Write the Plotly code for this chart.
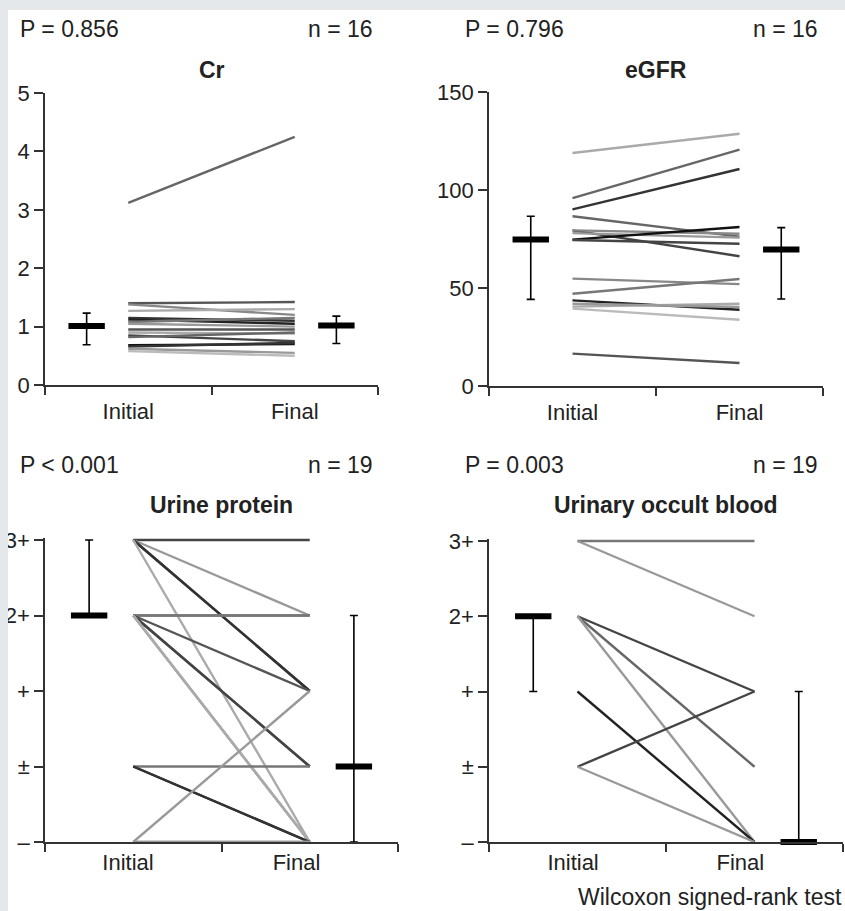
import plotly.graph_objects as go

W, H = 845, 911
FONT = "Liberation Sans, Arial, sans-serif"

# ---------------- data ----------------
groups = ["Initial", "Final"]
ordinal_labels = ["–", "±", "+", "2+", "3+"]

cr_initial = [3.12, 1.40, 1.38, 1.27, 1.15, 1.12, 1.08, 1.05, 0.95, 0.90, 0.85, 0.82, 0.68, 0.66, 0.62, 0.58]
cr_final   = [4.25, 1.42, 1.20, 1.30, 1.10, 1.05, 1.15, 1.00, 0.95, 0.88, 0.75, 0.90, 0.70, 0.72, 0.55, 0.50]
cr_colors  = ["#666", "#555", "#888", "#aaa", "#333", "#222", "#777", "#999", "#555", "#aaa", "#444", "#666",
              "#111", "#333", "#999", "#bbb"]
cr_median = [1.01, 1.02]
cr_q1     = [0.69, 0.71]
cr_q3     = [1.23, 1.18]

egfr_initial = [118.9, 95.9, 90.1, 86.6, 79.4, 79.4, 78.0, 74.7, 74.5, 54.8, 47.1, 43.7, 40.5, 39.5, 42.0, 16.5]
egfr_final   = [128.7, 120.6, 110.7, 76.2, 66.2, 77.7, 75.7, 81.1, 72.6, 52.0, 54.6, 38.9, 42.0, 33.8, 40.3, 11.7]
egfr_colors  = ["#aaa", "#666", "#333", "#666", "#444", "#888", "#999", "#111", "#444", "#888", "#777", "#222",
                "#aaa", "#bbb", "#999", "#555"]
egfr_median = [74.7, 69.6]
egfr_q1     = [44.2, 44.4]
egfr_q3     = [86.6, 80.8]

# ordinal scores: 0 = –, 1 = ±, 2 = +, 3 = 2+, 4 = 3+
up_initial = [4, 4, 4, 4, 4, 3, 3, 3, 3, 3, 3, 3, 3, 1, 1, 1, 0, 0, 0]
up_final   = [4, 3, 2, 2, 0, 3, 3, 2, 1, 1, 0, 0, 0, 1, 0, 0, 2, 0, 0]
up_colors  = ["#444", "#999", "#333", "#333", "#aaa", "#777", "#777", "#555", "#444", "#444", "#aaa", "#aaa",
              "#aaa", "#777", "#333", "#333", "#999", "#999", "#999"]
up_median = [3, 1]
up_q1     = [3, 0]
up_q3     = [4, 3]

ob_initial = [4, 4, 3, 3, 3, 2, 1, 1]
ob_final   = [4, 3, 2, 1, 0, 0, 2, 0]
ob_colors  = ["#777", "#999", "#444", "#666", "#999", "#222", "#444", "#999"]
ob_median = [3, 0]
ob_q1     = [2, 0]
ob_q3     = [3, 2]

# (y-range top, small headroom so lines on the top level are not clipped)
panels = [
    dict(title="Cr", p="P = 0.856", n="n = 16", ini=cr_initial, fin=cr_final, col=cr_colors,
         med=cr_median, q1=cr_q1, q3=cr_q3, yr=[0, 5], yt=[0, 1, 2, 3, 4, 5], ytt=None,
         box=(45, 378, 93, 385), lab=[1, 3], standoff=6, head=0),
    dict(title="eGFR", p="P = 0.796", n="n = 16", ini=egfr_initial, fin=egfr_final, col=egfr_colors,
         med=egfr_median, q1=egfr_q1, q3=egfr_q3, yr=[0, 150], yt=[0, 50, 100, 150], ytt=None,
         box=(489, 823, 92, 386), lab=[1, 3], standoff=6, head=0),
    dict(title="Urine protein", p="P < 0.001", n="n = 19", ini=up_initial, fin=up_final, col=up_colors,
         med=up_median, q1=up_q1, q3=up_q3, yr=[0, 4], yt=[0, 1, 2, 3, 4], ytt=ordinal_labels,
         box=(45, 398, 540, 842), lab=[0.94, 2.85], standoff=0, head=2),
    dict(title="Urinary occult blood", p="P = 0.003", n="n = 19", ini=ob_initial, fin=ob_final, col=ob_colors,
         med=ob_median, q1=ob_q1, q3=ob_q3, yr=[0, 4], yt=[0, 1, 2, 3, 4], ytt=ordinal_labels,
         box=(489, 843, 541, 842), lab=[0.95, 2.84], standoff=0, head=2),
]
line_x = [1, 3]
summary_x = [0.5, 3.5]


def fx(px):
    return px / W


def fy(py):
    return 1 - py / H


fig = go.Figure()
layout = dict(width=W, height=H, margin=dict(l=0, r=0, t=0, b=0, pad=0), autosize=False,
              paper_bgcolor="white", plot_bgcolor="white", showlegend=False, template="none",
              font=dict(family=FONT, size=22, color="#222"))
annotations = []
axis_color = "#333"
TXT = dict(family=FONT, size=23, color="#222")

for i, pnl in enumerate(panels):
    k = "" if i == 0 else str(i + 1)
    xa, ya = "x" + k, "y" + k
    x0, x1, yt, yb = pnl["box"]
    lo, hi = pnl["yr"]
    ppu = (yb - yt) / (hi - lo)
    head = pnl["head"]
    for a, b, c in zip(pnl["ini"], pnl["fin"], pnl["col"]):
        fig.add_trace(go.Scatter(x=line_x, y=[a, b], mode="lines", xaxis=xa, yaxis=ya,
                                 line=dict(color=c, width=2.4), cliponaxis=False, hoverinfo="skip"))
    for j in range(2):
        med = pnl["med"][j]
        fig.add_trace(go.Scatter(
            x=[summary_x[j]], y=[med], mode="markers", xaxis=xa, yaxis=ya, cliponaxis=False,
            marker=dict(symbol="line-ew", size=26, line=dict(color="black", width=6)),
            error_y=dict(type="data", symmetric=False, array=[pnl["q3"][j] - med],
                         arrayminus=[med - pnl["q1"][j]], color="black", thickness=1.6, width=4)))
    layout["xaxis" + k] = dict(
        domain=[fx(x0), fx(x1)], anchor=ya, range=[0, 4], showgrid=False, zeroline=False,
        automargin=False, showline=True, linecolor=axis_color, linewidth=1.6,
        tickmode="array", tickvals=pnl["lab"], ticktext=groups,
        ticks="", ticklabelstandoff=pnl["standoff"],
        minor=dict(tickvals=[0, 2, 4], ticks="outside", ticklen=8, tickcolor=axis_color, tickwidth=1.6),
        fixedrange=True)
    yax = dict(domain=[fy(yb), fy(yt - head)], anchor=xa, range=[lo, hi + head / ppu],
               showgrid=False, zeroline=False,
               automargin=False, showline=True, linecolor=axis_color, linewidth=1.6,
               tickmode="array", tickvals=pnl["yt"],
               ticks="outside", ticklen=9, tickcolor=axis_color, tickwidth=1.6, fixedrange=True)
    if pnl["ytt"] is not None:
        yax["ticktext"] = pnl["ytt"]
    layout["yaxis" + k] = yax

    # texts
    left = 18 if x0 < 400 else 463
    right = 375 if x0 < 400 else 820
    top_y = 29 if yt < 400 else 465
    title_y = 70 if yt < 400 else 505
    annotations.append(dict(text=pnl["p"], x=fx(left), y=fy(top_y), xref="paper", yref="paper",
                            xanchor="left", yanchor="middle", showarrow=False, font=TXT))
    annotations.append(dict(text=pnl["n"], x=fx(right), y=fy(top_y), xref="paper", yref="paper",
                            xanchor="right", yanchor="middle", showarrow=False, font=TXT))
    annotations.append(dict(text="<b>" + pnl["title"] + "</b>", x=fx((x0 + x1) / 2), y=fy(title_y),
                            xref="paper", yref="paper", xanchor="center", yanchor="middle", showarrow=False,
                            font=TXT))

annotations.append(dict(text="Wilcoxon signed-rank test", x=fx(844), y=fy(897), xref="paper", yref="paper",
                        xanchor="right", yanchor="middle", showarrow=False, font=TXT))
layout["annotations"] = annotations

# gray page frame (top and left strips)
layout["shapes"] = [
    dict(type="rect", xref="paper", yref="paper", x0=0, x1=1, y0=fy(10), y1=1,
         fillcolor="#e4e8ea", line=dict(width=0), layer="above"),
    dict(type="rect", xref="paper", yref="paper", x0=0, x1=fx(8), y0=0, y1=1,
         fillcolor="#e4e8ea", line=dict(width=0), layer="above"),
]

fig.update_layout(**layout)
fig.write_html("out.html", config={"displayModeBar": False},
               post_script="document.body.style.margin='0';document.body.style.overflow='hidden';")
